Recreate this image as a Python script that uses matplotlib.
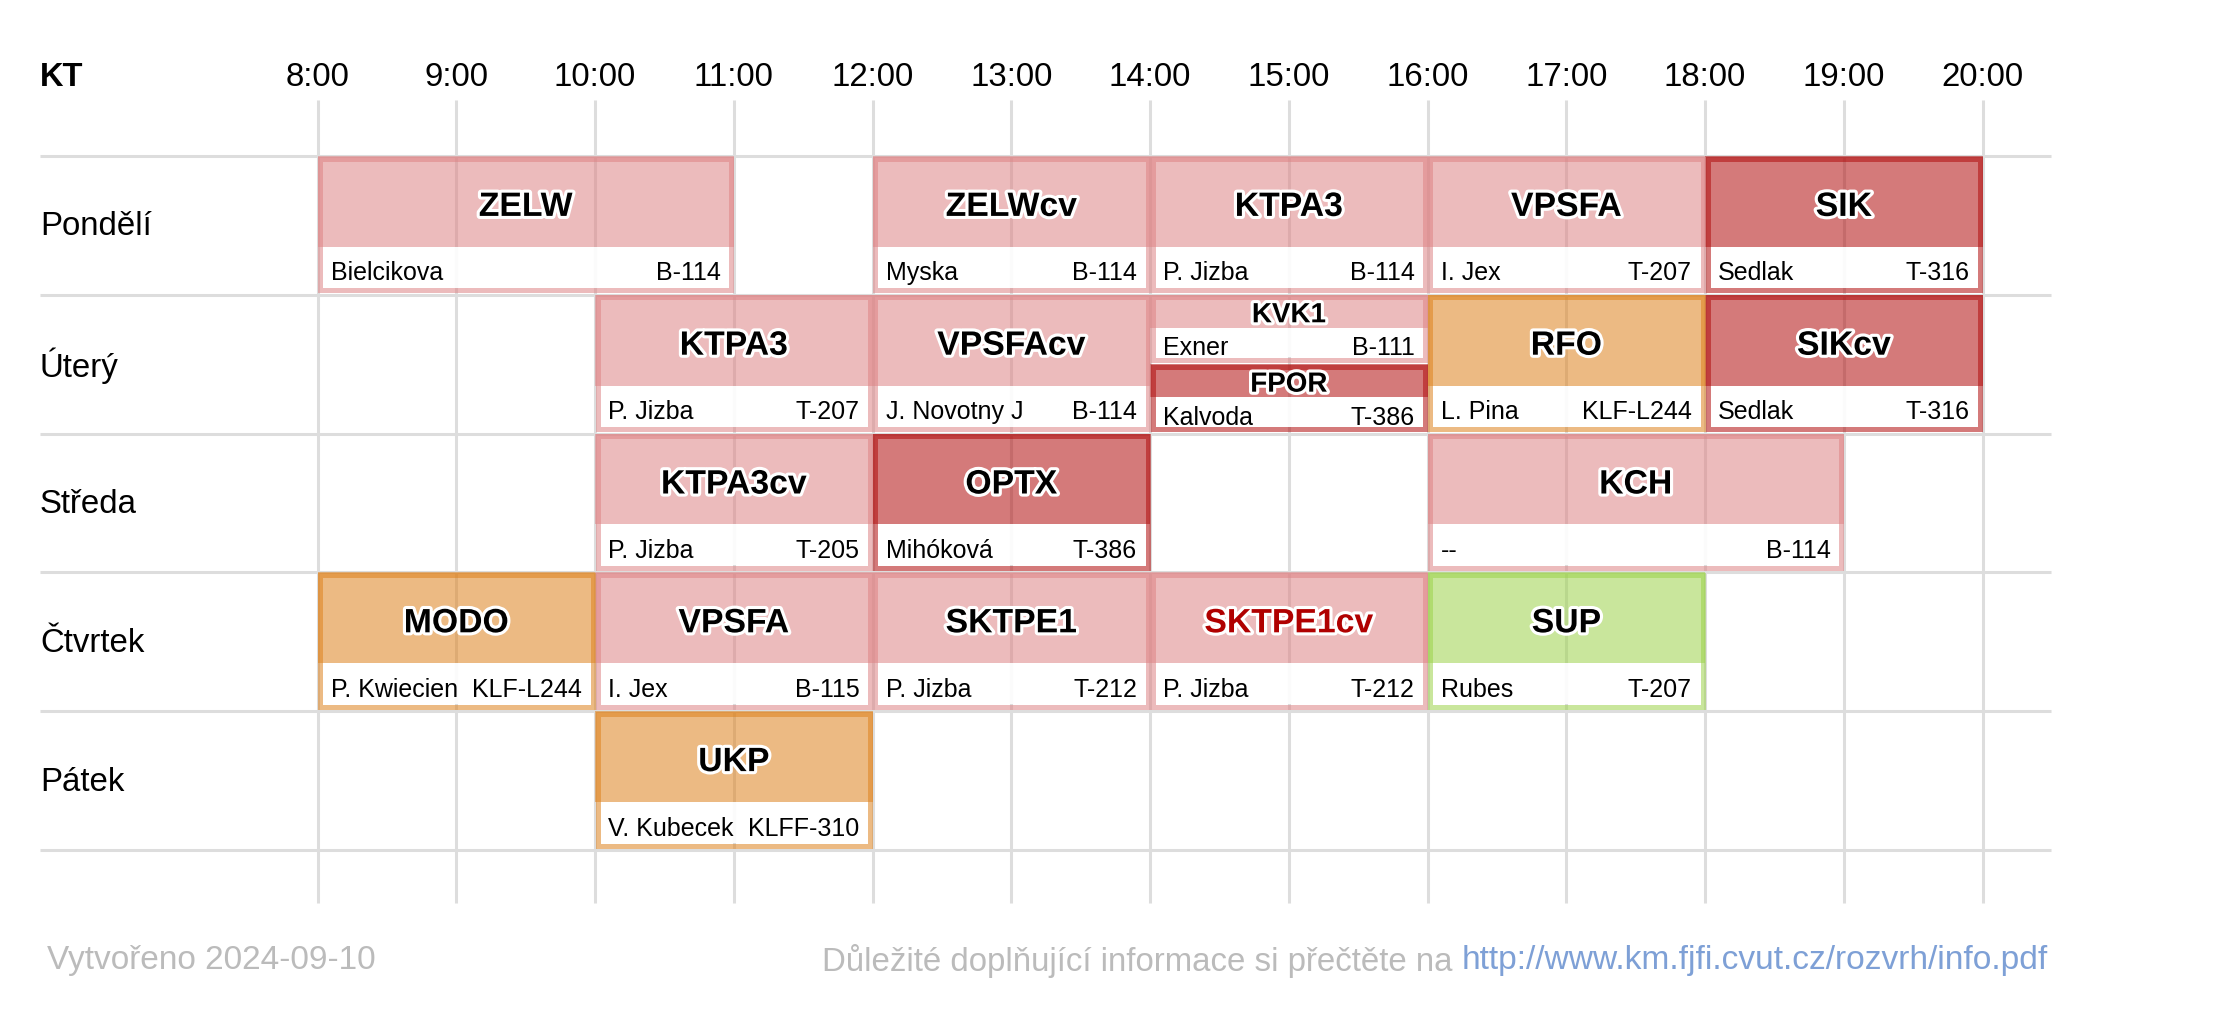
import matplotlib
matplotlib.use('Agg')
import matplotlib.pyplot as plt
from matplotlib.patches import Rectangle
import matplotlib.patheffects as pe
from matplotlib.transforms import offset_copy

plt.rcParams['font.family'] = ['Liberation Sans', 'DejaVu Sans']

# ---------------- data ----------------
corner_label = 'KT'
days = ['Pondělí', 'Úterý', 'Středa', 'Čtvrtek', 'Pátek']
hours = list(range(8, 21))
hour_labels = [f'{h}:00' for h in hours]

course_names = ['ZELW', 'ZELWcv', 'KTPA3', 'VPSFA', 'SIK',
                'KTPA3', 'VPSFAcv', 'KVK1', 'FPOR', 'RFO', 'SIKcv',
                'KTPA3cv', 'OPTX', 'KCH',
                'MODO', 'VPSFA', 'SKTPE1', 'SKTPE1cv', 'SUP',
                'UKP']
course_days = [0, 0, 0, 0, 0,
               1, 1, 1, 1, 1, 1,
               2, 2, 2,
               3, 3, 3, 3, 3,
               4]
course_start = [8, 12, 14, 16, 18,
                10, 12, 14, 14, 16, 18,
                10, 12, 16,
                8, 10, 12, 14, 16,
                10]
course_end = [11, 14, 16, 18, 20,
              12, 14, 16, 16, 18, 20,
              12, 14, 19,
              10, 12, 14, 16, 18,
              12]
teachers = ['Bielcikova', 'Myska', 'P. Jizba', 'I. Jex', 'Sedlak',
            'P. Jizba', 'J. Novotny J', 'Exner', 'Kalvoda', 'L. Pina', 'Sedlak',
            'P. Jizba', 'Mihóková', '--',
            'P. Kwiecien', 'I. Jex', 'P. Jizba', 'P. Jizba', 'Rubes',
            'V. Kubecek']
rooms = ['B-114', 'B-114', 'B-114', 'T-207', 'T-316',
         'T-207', 'B-114', 'B-111', 'T-386', 'KLF-L244', 'T-316',
         'T-205', 'T-386', 'B-114',
         'KLF-L244', 'B-115', 'T-212', 'T-212', 'T-207',
         'KLFF-310']
kinds = ['light', 'light', 'light', 'light', 'dark',
         'light', 'light', 'light', 'dark', 'orange', 'dark',
         'light', 'dark', 'light',
         'orange', 'light', 'light', 'light', 'green',
         'orange']
slots = ['full'] * 7 + ['top', 'bottom'] + ['full'] * 11
flagged = [False] * 17 + [True] + [False] * 2

created_text = 'Vytvořeno 2024-09-10'
note_text = 'Důležité doplňující informace si přečtěte na'
url_text = 'http://www.km.fjfi.cvut.cz/rozvrh/info.pdf'

# ---------------- style ----------------
base_colors = {'light': '#de8385', 'dark': '#b10d0d',
               'orange': '#de821e', 'green': '#9dd34b'}
ALPHA = 0.55
GRID_C = '#dddddd'

W, H = 2222, 1011
fig = plt.figure(figsize=(W / 100, H / 100), dpi=100)
ax = fig.add_axes([0, 0, 1, 1])
PX = 138.76   # pixels per hour
RY = 138.8    # pixels per day row
x0 = 8 - 317.5 / PX
y0 = -156 / RY
ax.set_xlim(x0, x0 + W / PX)
ax.set_ylim(y0 + H / RY, y0)
ax.axis('off')

# grid
ax.hlines(range(len(days) + 1), 6.0, 20.49, color=GRID_C, lw=2.2, zorder=1)
ax.vlines(hours, -0.40, len(days) + 0.38, color=GRID_C, lw=2.2, zorder=1)

# header
ax.text(6.0, -0.593, corner_label, ha='left', va='center_baseline',
        fontsize=23.5, fontweight='bold', color='black')
for h, lab in zip(hours, hour_labels):
    ax.text(h, -0.593, lab, ha='center', va='center_baseline',
            fontsize=23.8, color='black')
for i, d in enumerate(days):
    ax.text(6.0, i + 0.485, d, ha='left', va='center_baseline',
            fontsize=23.8, color='black')

# blocks
b = 5 / PX
lw_pt = 5 * 72 / 100
outline = [pe.withStroke(linewidth=4.5, foreground='white')]
for name, d, s, e, t, r, k, slot, fl in zip(course_names, course_days, course_start,
                                           course_end, teachers, rooms, kinds, slots, flagged):
    if slot == 'full':
        top, bot = d, d + 0.986
    elif slot == 'top':
        top, bot = d, d + 0.486
    else:
        top, bot = d + 0.5, d + 0.986
    h = bot - top
    hw = 0.135 + 0.163 * h
    wtop = bot - b - hw
    col = base_colors[k]
    ax.add_patch(Rectangle((s, top), e - s, wtop - top, facecolor=col,
                           alpha=ALPHA, lw=0, zorder=2))
    ax.add_patch(Rectangle((s + b, wtop), e - s - 2 * b, hw, facecolor='white',
                           alpha=0.9, lw=0, zorder=2.5))
    ax.add_patch(Rectangle((s + b / 2, top + b / 2), e - s - b, h - b, facecolor='none',
                           edgecolor=col, alpha=ALPHA, lw=lw_pt, zorder=3,
                           joinstyle='miter'))
    full = slot == 'full'
    ax.text((s + e) / 2, (top + wtop) / 2 + (0.018 if full else 0.008), name,
            ha='center', va='center_baseline',
            fontsize=24.3 if full else 20, fontweight='bold',
            color='#b00000' if fl else 'black', path_effects=outline, zorder=5)
    iy = wtop + hw / 2 + 0.025
    ax.text(s + 0.095, iy, t, ha='left', va='center_baseline', fontsize=18,
            color='black', zorder=5)
    ax.text(e - 0.095, iy, r, ha='right', va='center_baseline', fontsize=18,
            color='black', zorder=5)

# footer
fy = (H - 957.5) / H
fig.text(47 / W, fy, created_text, ha='left', va='center_baseline',
         fontsize=24, color='#bbbbbb')
url = fig.text(2048 / W, fy, url_text, ha='right', va='center_baseline',
               fontsize=24.1, color='#7ea0d6')
fig.canvas.draw()
bb = url.get_window_extent(renderer=fig.canvas.get_renderer())
trans = offset_copy(fig.transFigure, fig=fig, x=-9, y=0, units='dots')
fig.text(bb.x0 / W, fy, note_text, ha='right', va='center_baseline',
         fontsize=23.8, color='#bbbbbb', transform=trans)

fig.savefig('out.png', dpi=100)
